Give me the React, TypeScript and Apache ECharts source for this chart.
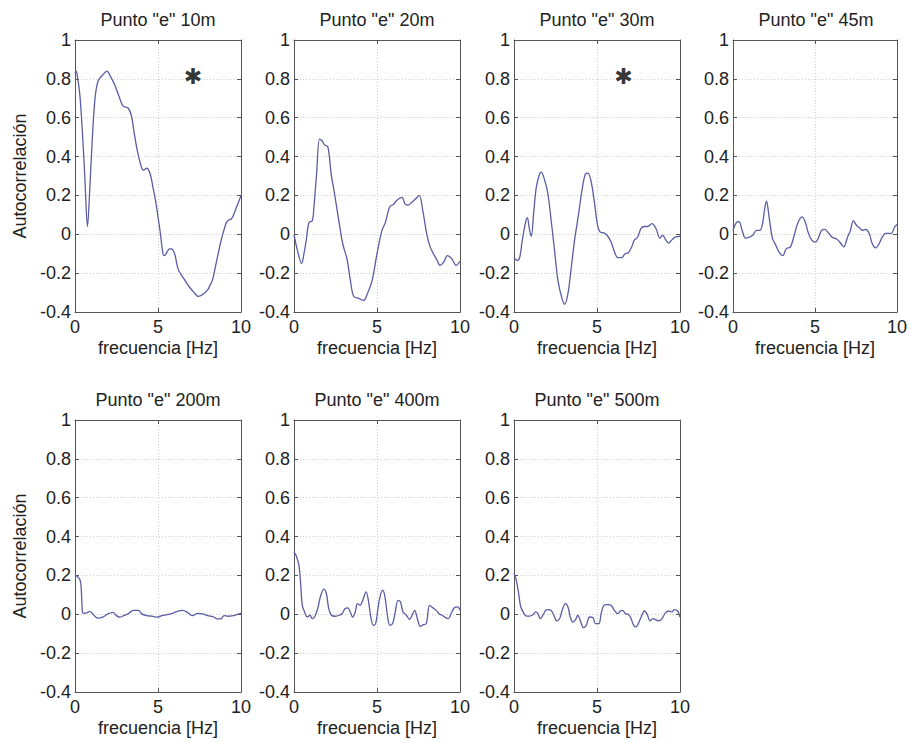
import React, { useEffect, useRef } from "react";
import * as echarts from "echarts";

// ---- Data (frequency [Hz], autocorrelation) ----
const titles = ['Punto "e" 10m', 'Punto "e" 20m', 'Punto "e" 30m', 'Punto "e" 45m', 'Punto "e" 200m', 'Punto "e" 400m', 'Punto "e" 500m'];
const xTicks = [0, 5, 10];
const yTicks = [-0.4, -0.2, 0, 0.2, 0.4, 0.6, 0.8, 1];

const e10m: number[][] = [[0,0.83],[0.07,0.84],[0.15,0.81],[0.3,0.71],[0.45,0.52],[0.6,0.28],[0.75,0.04],[0.9,0.25],[1.06,0.52],[1.22,0.71],[1.4,0.79],[1.67,0.82],[1.92,0.84],[2.15,0.81],[2.39,0.77],[2.65,0.71],[2.9,0.66],[3.2,0.65],[3.4,0.61],[3.55,0.53],[3.71,0.45],[3.92,0.37],[4.12,0.33],[4.33,0.34],[4.53,0.31],[4.7,0.24],[4.84,0.18],[5.0,0.09],[5.14,0.006],[5.25,-0.07],[5.35,-0.11],[5.45,-0.105],[5.55,-0.09],[5.7,-0.075],[5.8,-0.075],[6.0,-0.1],[6.15,-0.16],[6.27,-0.19],[6.57,-0.23],[6.88,-0.27],[7.18,-0.3],[7.43,-0.32],[7.69,-0.31],[8.0,-0.285],[8.15,-0.26],[8.3,-0.23],[8.45,-0.17],[8.6,-0.11],[8.75,-0.05],[8.92,0.006],[9.12,0.06],[9.3,0.075],[9.43,0.08],[9.6,0.11],[9.73,0.14],[9.87,0.17],[10,0.2]];
const e20m: number[][] = [[0,0.0],[0.2,-0.08],[0.46,-0.15],[0.6,-0.1],[0.74,-0.03],[0.9,0.06],[1.1,0.07],[1.2,0.14],[1.36,0.31],[1.54,0.49],[1.7,0.48],[1.84,0.46],[2.04,0.45],[2.24,0.31],[2.44,0.21],[2.7,0.07],[2.94,-0.05],[3.2,-0.13],[3.4,-0.24],[3.6,-0.32],[3.9,-0.33],[4.2,-0.34],[4.4,-0.31],[4.7,-0.24],[5.0,-0.1],[5.3,0.02],[5.5,0.06],[5.76,0.14],[6.0,0.155],[6.2,0.175],[6.5,0.19],[6.7,0.155],[6.86,0.15],[7.1,0.165],[7.3,0.18],[7.54,0.2],[7.76,0.12],[8.0,0.0],[8.2,-0.065],[8.4,-0.1],[8.6,-0.13],[8.8,-0.16],[9.04,-0.14],[9.24,-0.11],[9.5,-0.125],[9.76,-0.16],[10,-0.14]];
const e30m: number[][] = [[0,-0.12],[0.18,-0.135],[0.34,-0.12],[0.5,-0.03],[0.68,0.055],[0.8,0.085],[0.94,0.02],[1.04,-0.01],[1.18,0.105],[1.34,0.24],[1.54,0.31],[1.64,0.32],[1.84,0.28],[2.04,0.21],[2.24,0.07],[2.44,-0.08],[2.65,-0.24],[2.89,-0.33],[3.05,-0.36],[3.25,-0.305],[3.45,-0.17],[3.65,-0.03],[3.89,0.105],[4.1,0.23],[4.3,0.31],[4.45,0.315],[4.65,0.27],[4.85,0.16],[5.05,0.04],[5.21,0.01],[5.41,0.007],[5.65,-0.01],[5.85,-0.04],[6.05,-0.09],[6.25,-0.12],[6.49,-0.12],[6.69,-0.1],[6.89,-0.095],[7.09,-0.065],[7.25,-0.03],[7.45,-0.015],[7.65,0.03],[7.85,0.04],[8.05,0.04],[8.3,0.055],[8.55,0.03],[8.79,-0.02],[8.95,-0.005],[9.15,-0.03],[9.32,-0.045],[9.5,-0.03],[9.7,-0.015],[10,-0.01]];
const e45m: number[][] = [[0,0.02],[0.2,0.06],[0.36,0.065],[0.56,0.02],[0.76,-0.02],[1.0,-0.015],[1.2,-0.005],[1.44,0.02],[1.64,0.02],[1.8,0.055],[1.92,0.125],[2.04,0.17],[2.2,0.09],[2.4,-0.02],[2.6,-0.055],[2.8,-0.09],[3.04,-0.11],[3.24,-0.075],[3.5,-0.065],[3.7,-0.015],[3.94,0.055],[4.2,0.09],[4.4,0.065],[4.6,0.005],[4.8,-0.03],[5.04,-0.04],[5.2,-0.02],[5.4,0.02],[5.6,0.025],[5.84,0.005],[6.04,-0.015],[6.2,-0.02],[6.4,-0.03],[6.6,-0.05],[6.76,-0.065],[6.96,-0.02],[7.16,0.02],[7.34,0.07],[7.54,0.045],[7.7,0.035],[7.9,0.02],[8.1,0.025],[8.3,0.005],[8.5,-0.05],[8.7,-0.07],[8.9,-0.05],[9.1,-0.015],[9.3,0.005],[9.5,0.005],[9.66,0.005],[9.84,0.035],[10,0.05]];
const e200m: number[][] = [[0,0.2],[0.14,0.195],[0.29,0.18],[0.37,0.14],[0.43,0.035],[0.49,0.005],[0.69,0.007],[0.86,0.015],[1.02,0.007],[1.2,-0.01],[1.37,-0.02],[1.67,-0.015],[1.98,0.002],[2.29,0.01],[2.49,-0.007],[2.69,-0.015],[2.94,-0.007],[3.2,0.002],[3.51,0.02],[3.82,0.02],[4.02,0.002],[4.33,-0.007],[4.63,-0.01],[4.94,-0.015],[5.24,-0.007],[5.55,-0.002],[5.86,0.005],[6.16,0.015],[6.47,0.02],[6.78,0.01],[7.08,-0.007],[7.39,0.005],[7.69,0.002],[8.0,-0.007],[8.31,-0.012],[8.57,-0.024],[8.78,-0.024],[8.98,-0.007],[9.22,-0.01],[9.53,-0.007],[9.73,-0.002],[10,0.005]];
const e400m: number[][] = [[0,0.32],[0.14,0.3],[0.3,0.25],[0.4,0.16],[0.5,0.046],[0.64,0.012],[0.8,-0.014],[0.96,-0.005],[1.1,-0.022],[1.24,-0.014],[1.43,0.03],[1.59,0.09],[1.79,0.13],[1.95,0.107],[2.09,0.03],[2.25,-0.005],[2.49,-0.01],[2.73,-0.005],[2.89,0.003],[3.09,0.03],[3.25,0.033],[3.39,0.012],[3.53,-0.014],[3.69,0.012],[3.82,0.055],[3.98,0.046],[4.14,0.072],[4.34,0.115],[4.48,0.072],[4.64,-0.022],[4.78,-0.057],[4.92,-0.048],[5.04,0.02],[5.18,0.09],[5.34,0.124],[5.48,0.09],[5.64,-0.014],[5.78,-0.057],[5.94,-0.048],[6.08,0.003],[6.27,0.072],[6.41,0.064],[6.57,0.012],[6.77,-0.005],[6.97,-0.027],[7.11,-0.005],[7.27,0.02],[7.43,-0.022],[7.61,-0.062],[7.81,-0.053],[7.97,-0.048],[8.17,0.046],[8.37,0.033],[8.57,0.02],[8.73,0.003],[8.92,-0.005],[9.12,-0.017],[9.3,-0.022],[9.46,0.003],[9.66,0.034],[9.86,0.038],[10,0.02]];
const e500m: number[][] = [[0,0.21],[0.14,0.175],[0.28,0.107],[0.4,0.04],[0.58,0.007],[0.74,-0.009],[0.94,-0.009],[1.14,-0.002],[1.3,0.012],[1.44,0.003],[1.58,-0.022],[1.74,-0.005],[1.9,0.02],[2.08,0.024],[2.24,0.02],[2.4,-0.005],[2.58,-0.034],[2.75,-0.022],[2.9,0.02],[3.1,0.055],[3.25,0.038],[3.39,-0.014],[3.55,-0.04],[3.71,-0.027],[3.85,-0.005],[4.0,-0.034],[4.19,-0.069],[4.35,-0.057],[4.55,-0.014],[4.75,-0.017],[4.91,-0.048],[5.11,-0.048],[5.25,0.003],[5.41,0.046],[5.65,0.05],[5.85,0.046],[6.05,0.02],[6.25,0.003],[6.41,0.017],[6.55,0.02],[6.71,0.003],[6.89,0],[7.05,-0.022],[7.21,-0.057],[7.35,-0.065],[7.49,-0.048],[7.66,-0.014],[7.86,0.017],[8.02,0],[8.2,-0.034],[8.36,-0.022],[8.52,-0.027],[8.72,-0.034],[8.92,-0.022],[9.12,0.007],[9.32,0.017],[9.5,0.012],[9.66,0.024],[9.86,0.017],[10,-0.014]];
const panelData = [e10m, e20m, e30m, e45m, e200m, e400m, e500m];

// asterisk annotations: panel index and [x, y] location
const asteriskPanels = [0, 2];
const asteriskPoints: number[][] = [[7.1, 0.81], [6.6, 0.81]];

// ---- Layout ----
const colLeft = [75, 294, 514, 733];
const rowTop = [40, 420];
const plotW = 166;
const plotH = 272;
const FONT = "'Liberation Sans', Arial, Helvetica, sans-serif";
const TXT = "#222";
const LINE = "#5a5ca4";
const BOX = "#555";

function fmt(v: number) {
  const r = Math.round(v * 10) / 10;
  return r === 0 ? "0" : String(r);
}

export default function App() {
  const ref = useRef<HTMLDivElement>(null);
  useEffect(() => {
    document.body.style.margin = "0";
    const chart = echarts.init(ref.current!, undefined, { renderer: "svg" });
    const grids: any[] = [];
    const xAxes: any[] = [];
    const yAxes: any[] = [];
    const series: any[] = [];
    const titleArr: any[] = [];
    panelData.forEach((_data, i) => {
      const row = i < 4 ? 0 : 1;
      const col = i < 4 ? i : i - 4;
      const left = colLeft[col];
      const top = rowTop[row];
      grids.push({ left, top, width: plotW, height: plotH, containLabel: false });
      titleArr.push({
        text: titles[i],
        left: left + plotW / 2,
        top: top - 29,
        textAlign: "center",
        padding: 0,
        textStyle: { fontSize: 18, fontWeight: "normal", fontFamily: FONT, color: TXT },
      });
    });
    panelData.forEach((_, i) => {
      xAxes.push({
        type: "value", gridIndex: i, position: "bottom", min: xTicks[0], max: xTicks[xTicks.length - 1], interval: 5,
        name: "frecuencia [Hz]", nameLocation: "middle", nameGap: 27,
        nameTextStyle: { fontSize: 18, fontFamily: FONT, color: TXT },
        axisLine: { show: true, onZero: false, lineStyle: { color: BOX, width: 1 } },
        axisTick: { show: true, inside: true, length: 4, lineStyle: { color: BOX } },
        axisLabel: { show: true, margin: 6, fontSize: 18, fontFamily: FONT, color: TXT },
        splitLine: { show: true, lineStyle: { color: "#cfcfcf", type: [1, 2], width: 1 } },
      });
    });
    panelData.forEach((_, i) => {
      xAxes.push({
        type: "value", gridIndex: i, position: "top", min: 0, max: 10, interval: 5,
        axisLine: { show: true, onZero: false, lineStyle: { color: BOX, width: 1 } },
        axisTick: { show: true, inside: true, length: 4, lineStyle: { color: BOX } },
        axisLabel: { show: false }, splitLine: { show: false },
      });
    });
    panelData.forEach((_, i) => {
      const showName = i === 0 || i === 4;
      yAxes.push({
        type: "value", gridIndex: i, position: "left", min: yTicks[0], max: yTicks[yTicks.length - 1], interval: 0.2,
        name: showName ? "Autocorrelación" : "", nameLocation: "middle", nameGap: 46,
        nameTextStyle: { fontSize: 18, fontFamily: FONT, color: TXT },
        axisLine: { show: true, onZero: false, lineStyle: { color: BOX, width: 1 } },
        axisTick: { show: true, inside: true, length: 4, lineStyle: { color: BOX } },
        axisLabel: { show: true, margin: 4, fontSize: 18, fontFamily: FONT, color: TXT, formatter: (v: number) => fmt(v) },
        splitLine: { show: true, lineStyle: { color: "#cfcfcf", type: [1, 2], width: 1 } },
      });
    });
    panelData.forEach((_, i) => {
      yAxes.push({
        type: "value", gridIndex: i, position: "right", min: -0.4, max: 1, interval: 0.2,
        axisLine: { show: true, onZero: false, lineStyle: { color: BOX, width: 1 } },
        axisTick: { show: true, inside: true, length: 4, lineStyle: { color: BOX } },
        axisLabel: { show: false }, splitLine: { show: false },
      });
    });
    panelData.forEach((data, i) => {
      series.push({
        type: "line", xAxisIndex: i, yAxisIndex: i, data, showSymbol: false, symbol: "none",
        smooth: 0.35, lineStyle: { color: LINE, width: 1.3 }, silent: true,
      });
    });
    asteriskPanels.forEach((p, k) => {
      series.push({
        type: "scatter", xAxisIndex: p, yAxisIndex: p, data: [asteriskPoints[k]],
        symbol: "circle", symbolSize: 1, itemStyle: { color: "rgba(0,0,0,0)" }, silent: true,
        label: { show: true, formatter: "✱", position: "inside", offset: [0, 0], fontSize: 22, fontFamily: "'DejaVu Sans', sans-serif", color: "#000" },
      });
    });
    chart.setOption({
      animation: false,
      backgroundColor: "#fff",
      title: titleArr,
      grid: grids,
      xAxis: xAxes,
      yAxis: yAxes,
      series,
    });
    return () => chart.dispose();
  }, []);
  return <div ref={ref} style={{ position: "absolute", left: 0, top: 0, width: 910, height: 743 }} />;
}
